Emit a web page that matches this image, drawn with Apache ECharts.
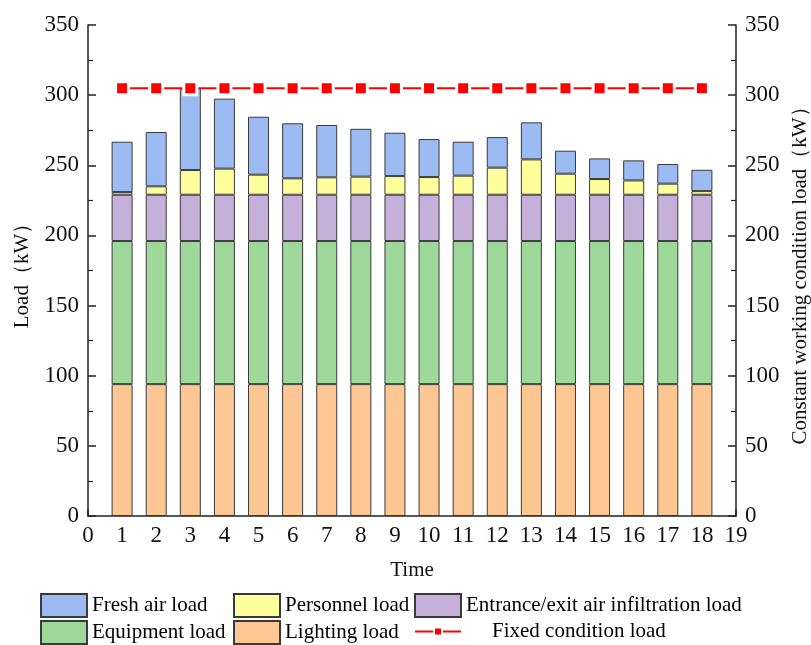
<!DOCTYPE html>
<html><head><meta charset="utf-8">
<script src="https://cdn.jsdelivr.net/npm/echarts@6/dist/echarts.min.js"></script>
<style>html,body{margin:0;padding:0;background:#fff}#c{width:811px;height:645px}</style>
</head><body><div id="c"></div>
<script>
const xTickLabels = ['0','1','2','3','4','5','6','7','8','9','10','11','12','13','14','15','16','17','18','19'];
const times = [1,2,3,4,5,6,7,8,9,10,11,12,13,14,15,16,17,18];
const lighting = [94,94,94,94,94,94,94,94,94,94,94,94,94,94,94,94,94,94];
const equipment = [102,102,102,102,102,102,102,102,102,102,102,102,102,102,102,102,102,102];
const infiltration = [33,33,33,33,33,33,33,33,33,33,33,33,33,33,33,33,33,33];
const personnel = [1.9,6,17.6,18.6,14.3,11.7,12.4,12.9,13.3,12.6,13.6,19.3,25.2,15,11.2,10.2,7.9,2.6];
const freshAir = [35.9,38.7,58.2,49.9,41.3,39.2,37.3,34.1,30.9,27.1,24.2,21.8,26.4,16.4,14.7,14.3,14,15.2];
const fixedCondition = [305,305,305,305,305,305,305,305,305,305,305,305,305,305,305,305,305,305];

const names = {
  fresh: 'Fresh air load',
  personnel: 'Personnel load',
  infil: 'Entrance/exit air infiltration load',
  equip: 'Equipment load',
  light: 'Lighting load',
  fixed: 'Fixed condition load'
};
const colors = {
  fresh: '#9bbbf2', personnel: '#ffff9c', infil: '#c4b0d8',
  equip: '#9fd89b', light: '#fdc794', fixed: '#ff0000'
};
const FONT = 'Liberation Serif';

// place each value at its time's category slot; empty at 0 and 19
function slot(arr){
  return xTickLabels.map(lbl => {
    const i = times.indexOf(Number(lbl));
    return i >= 0 ? arr[i] : '-';
  });
}
function barSeries(key, arr){
  return {
    name: names[key], type: 'bar', stack: 'load', barWidth: 21,
    data: slot(arr),
    itemStyle: { color: colors[key], borderColor: '#3a3a3a', borderWidth: 1 },
    emphasis: { disabled: true }
  };
}
function legendAt(key, left, top, extra){
  return Object.assign({
    data: [names[key]], left: left, top: top, padding: 0,
    itemWidth: 46, itemHeight: 23, itemGap: 0, icon: 'rect',
    textStyle: { fontFamily: FONT, fontSize: 21, color: '#000' },
    selectedMode: false
  }, extra || {});
}

const axisY = (pos) => ({
  type: 'value', position: pos, min: 0, max: 350, interval: 50,
  axisLine: { show: true, lineStyle: { color: '#222', width: 1.5 } },
  axisTick: { show: true, inside: true, length: 8, lineStyle: { color: '#222', width: 1.5 } },
  minorTick: { show: true, splitNumber: 2, length: 5, lineStyle: { color: '#222', width: 1.2 } },
  splitLine: { show: false },
  axisLabel: { fontFamily: FONT, fontSize: 23, color: '#111', margin: 9 },
  nameLocation: 'middle', nameRotate: 90,
  nameTextStyle: { fontFamily: FONT, fontSize: 21, color: '#111' }
});

const chart = echarts.init(document.getElementById('c'));
chart.setOption({
  animation: false,
  backgroundColor: '#fff',
  grid: { left: 88, right: 75, top: 25, bottom: 129, containLabel: false, outerBoundsMode: 'none' },
  legend: [
    legendAt('fresh', 40, 593),
    legendAt('personnel', 233, 593),
    legendAt('infil', 414, 593),
    legendAt('equip', 40, 620),
    legendAt('light', 233, 620),
    legendAt('fixed', 414, 621, { icon: null, itemWidth: 46, itemHeight: 10,
      textStyle: { fontFamily: FONT, fontSize: 21, color: '#000', padding: [0,0,0,26] } })
  ],
  xAxis: {
    type: 'category', data: xTickLabels, boundaryGap: false,
    axisLine: { show: true, lineStyle: { color: '#222', width: 1.5 } },
    axisTick: { show: true, inside: true, length: 7, interval: 0, lineStyle: { color: '#222', width: 1.5 } },
    splitLine: { show: false },
    axisLabel: { fontFamily: FONT, fontSize: 23, color: '#111', margin: 8, interval: 0 },
    name: 'Time', nameLocation: 'middle', nameGap: 44,
    nameTextStyle: { fontFamily: FONT, fontSize: 21, color: '#111' }
  },
  yAxis: [
    Object.assign(axisY('left'), { name: 'Load（kW）', nameGap: 55 }),
    Object.assign(axisY('right'), { name: 'Constant working condition load（kW）', nameGap: 48 })
  ],
  series: [
    barSeries('light', lighting),
    barSeries('equip', equipment),
    barSeries('infil', infiltration),
    barSeries('personnel', personnel),
    barSeries('fresh', freshAir),
    {
      name: names.fixed, type: 'line', yAxisIndex: 1,
      data: slot(fixedCondition),
      symbol: 'rect', symbolSize: 13,
      lineStyle: { color: colors.fixed, width: 2 },
      itemStyle: { color: colors.fixed, borderColor: '#fff', borderWidth: 3 },
      emphasis: { disabled: true }, z: 5
    }
  ]
});
</script></body></html>
